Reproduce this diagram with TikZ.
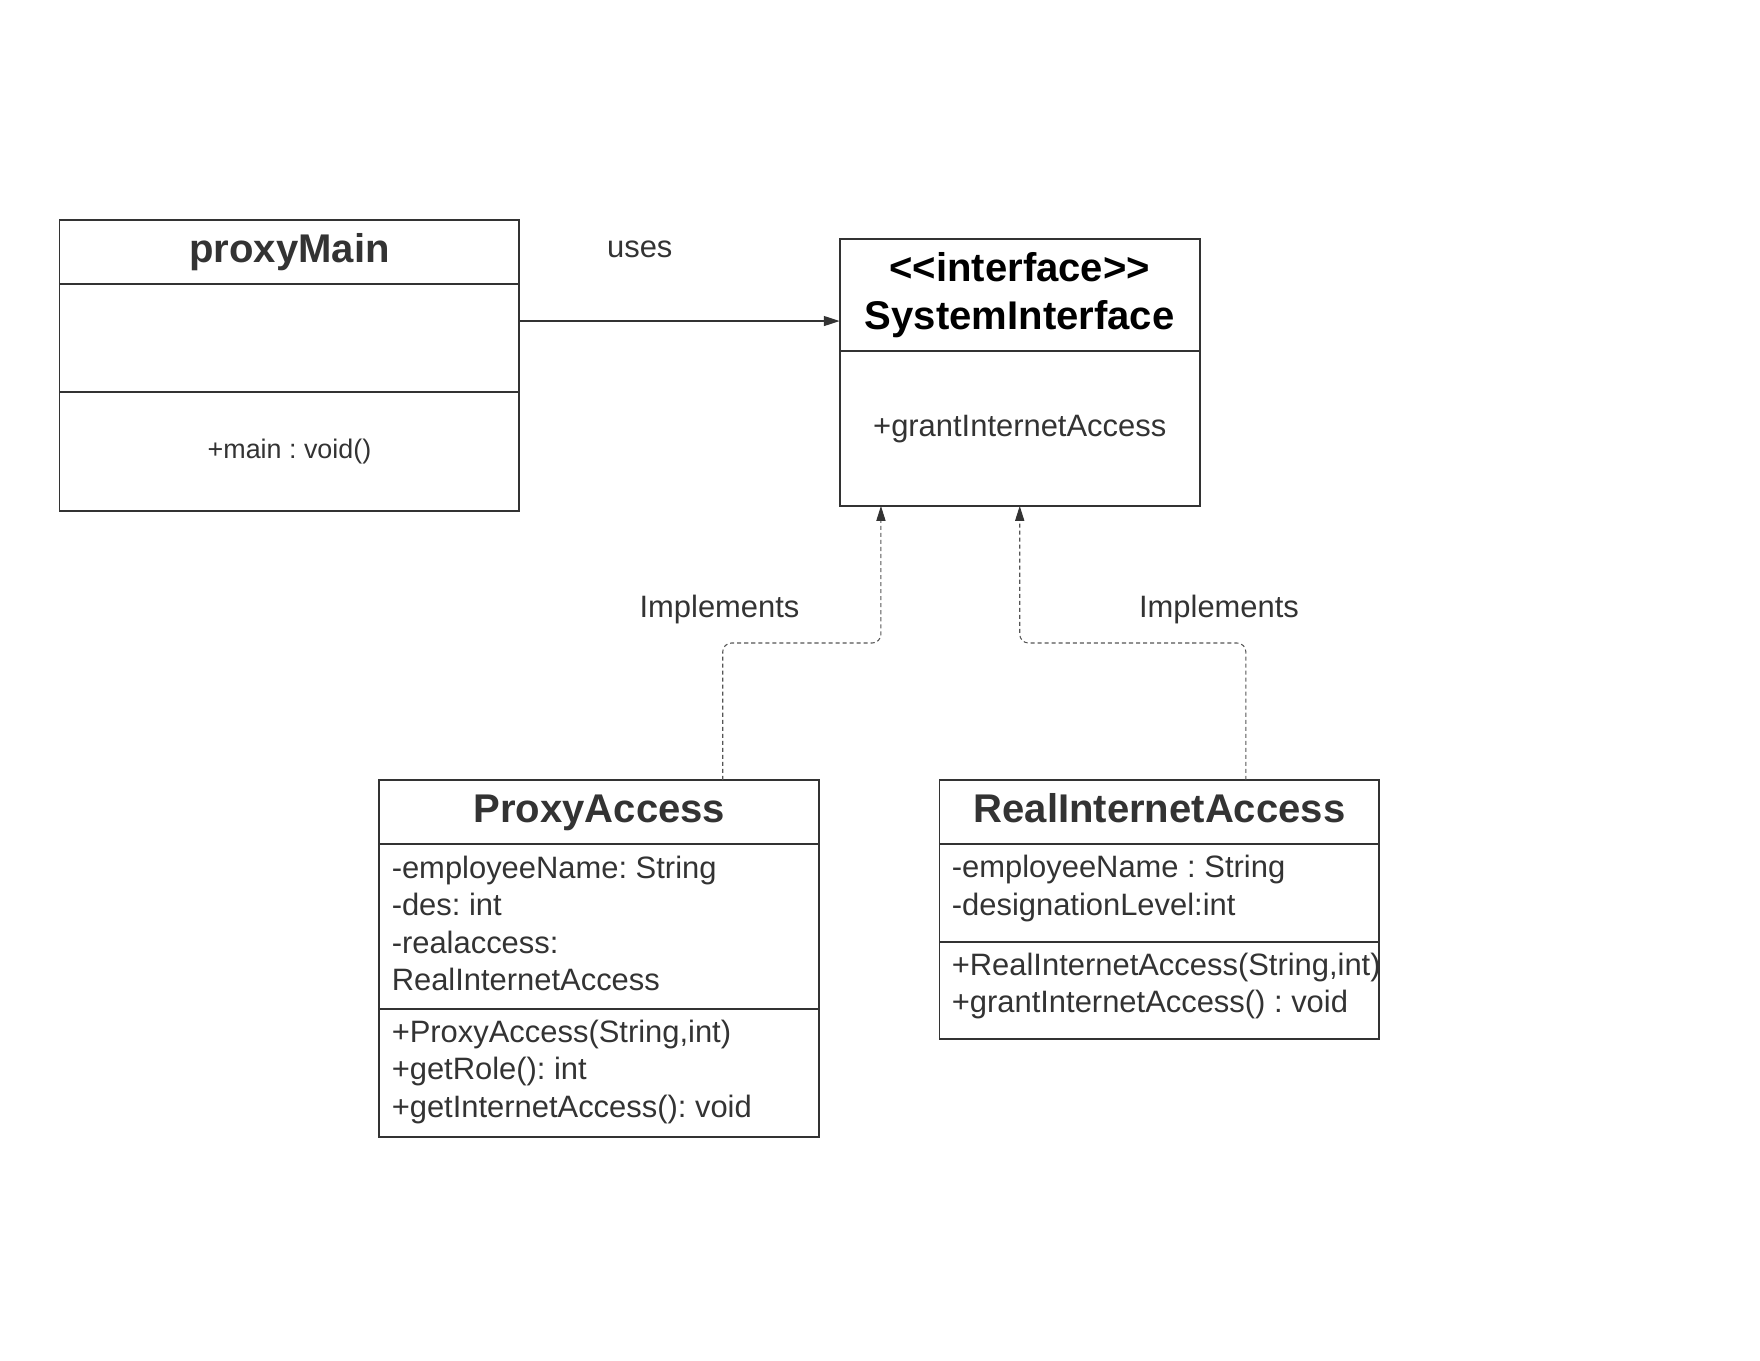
\documentclass[tikz,border=0pt]{standalone}
\usepackage{fontspec}
\setmainfont{Liberation Sans}
\usetikzlibrary{arrows.meta,positioning}

\definecolor{ink}{HTML}{333333}
\definecolor{dashc}{HTML}{555555}
\newcommand{\umlhead}{\fontsize{22.8}{27.3}\selectfont\bfseries\frenchspacing}
\newcommand{\umlbody}{\fontsize{17.6}{21.3}\selectfont\frenchspacing}
\newcommand{\umlsmall}{\fontsize{15.3}{19}\selectfont\frenchspacing}

\tikzset{
  part/.style={draw=ink, line width=1.1pt, inner sep=0pt, outer sep=0pt, anchor=north west, text=ink},
  head/.style={part, font=\umlhead, align=center},
  title/.style={head, text height=16.3pt, text depth=4.8pt},
  members/.style={text=ink, font=\umlbody, align=left, inner sep=0pt, anchor=west},
  lbl/.style={text=ink, font=\umlbody, inner sep=0pt},
  uses/.style={draw=ink, line width=0.7pt, -{Triangle[length=9pt,width=5.7pt]}},
  impl/.style={draw=dashc, line width=0.6pt, dash pattern=on 2.3pt off 1.7pt,
    rounded corners=5pt, -{Triangle[length=8.5pt,width=5.2pt,color=ink]}}
}

\begin{document}
\begin{tikzpicture}[x=0.02cm,y=-0.02cm]
  \fill[white] (0,0) rectangle (1760,1360);
  \useasboundingbox (0,0) rectangle (1760,1360);

  \node[title, minimum width=9.2cm, minimum height=1.28cm] (pmHead) at (59.5,220) {proxyMain};
  \node[part, below=0pt of pmHead, minimum width=9.2cm, minimum height=2.154cm] (pmAttr) {};
  \node[part, below=0pt of pmAttr, minimum width=9.2cm, minimum height=2.38cm, font=\umlsmall] (pmMeth) {+main : void()};

  \node[head, text=black, minimum width=7.206cm, minimum height=2.246cm] (sysHead) at (839.6,239)
    {<\kern0pt<interface>\kern0pt>\\SystemInterface};
  \node[part, below=0pt of sysHead, minimum width=7.206cm, minimum height=3.094cm, font=\umlbody] (sysMeth)
    {+grantInternetAccess};

  \node[title, minimum width=8.8cm, minimum height=1.28cm] (pxHead) at (379.4,780) {ProxyAccess};
  \node[part, below=0pt of pxHead, minimum width=8.8cm, minimum height=3.3cm] (pxAttr) {};
  \node[part, below=0pt of pxAttr, minimum width=8.8cm, minimum height=2.56cm] (pxMeth) {};
  \node[members] (pxAttrTxt) at ([xshift=0.24cm, yshift=0.065cm]pxAttr.west)
    {-employeeName: String\\-des: int\\-realaccess:\\RealInternetAccess};
  \node[members] (pxMethTxt) at ([xshift=0.24cm, yshift=0.02cm]pxMeth.west)
    {+ProxyAccess(String,int)\\+getRole(): int\\+getInternetAccess(): void};

  \node[title, minimum width=8.8cm, minimum height=1.28cm] (riHead) at (939.5,780) {RealInternetAccess};
  \node[part, below=0pt of riHead, minimum width=8.8cm, minimum height=1.954cm] (riAttr) {};
  \node[part, below=0pt of riAttr, minimum width=8.8cm, minimum height=1.954cm] (riMeth) {};
  \node[members] (riAttrTxt) at ([xshift=0.24cm, yshift=0.09cm]riAttr.west)
    {-employeeName : String\\-designationLevel:int};
  \node[members] (riMethTxt) at ([xshift=0.24cm, yshift=0.09cm]riMeth.west)
    {+RealInternetAccess(String,int)\\+grantInternetAccess() : void};

  \coordinate (usesStart) at ([yshift=0.336cm]pmAttr.east);
  \draw[uses] (usesStart) -- (usesStart -| sysHead.west);
  \node[lbl] (usesLbl) at (639.8,249) {uses};

  \coordinate (pxOut) at ([xshift=2.468cm]pxHead.north);
  \draw[impl] (pxOut) -- ++(0,-137) -| ([xshift=-2.776cm]sysMeth.south);
  \coordinate (riOut) at ([xshift=1.728cm]riHead.north);
  \draw[impl] (riOut) -- ++(0,-137) -| (sysMeth.south);
  \node[lbl] (implA) at (719.5,609) {Implements};
  \node[lbl] (implB) at (1219,609) {Implements};
\end{tikzpicture}
\end{document}
